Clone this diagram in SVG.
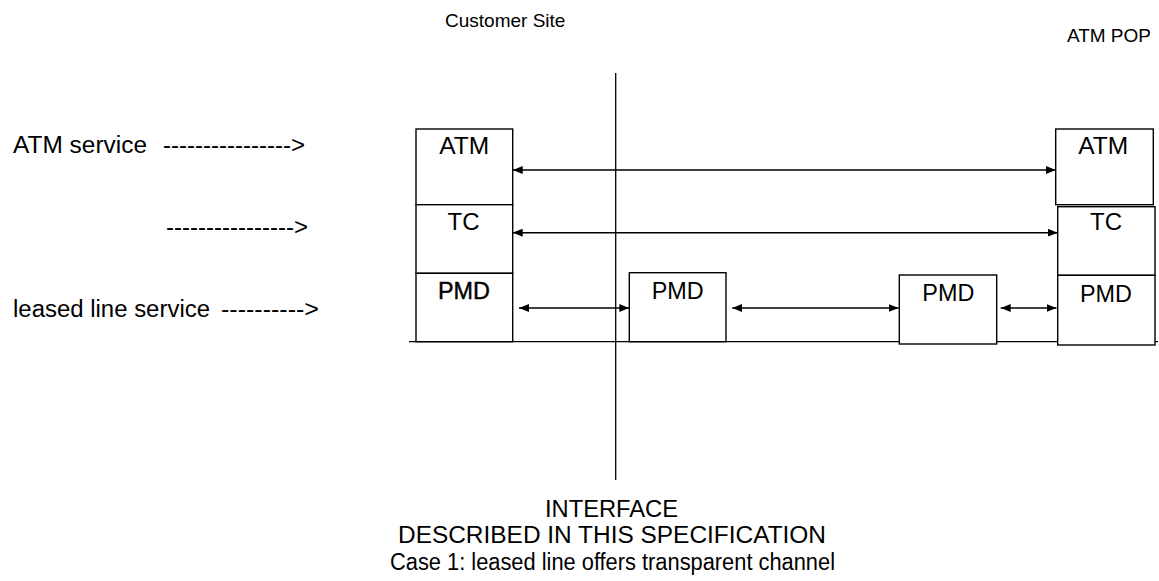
<svg xmlns="http://www.w3.org/2000/svg" width="1159" height="581" viewBox="0 0 1159 581">
  <style>
    text { font-family: "Liberation Sans", Arial, sans-serif; fill: #000; }
    .lbl { font-size: 23px; }
    .hdr { font-size: 19px; }
    .box { fill: #fff; stroke: #000; stroke-width: 1.4; }
    .line { stroke: #000; stroke-width: 1.3; fill: none; }
    .arrow { stroke: #000; stroke-width: 1.4; fill: none; marker-start: url(#head); marker-end: url(#head); }
  </style>
  <defs>
    <marker id="head" viewBox="0 0 10 8" refX="10" refY="4" markerWidth="10" markerHeight="8" markerUnits="userSpaceOnUse" orient="auto-start-reverse">
      <path d="M0,0 L10,4 L0,8 Z" fill="#000"/>
    </marker>
  </defs>
  <rect width="1159" height="581" fill="#fff"/>

  <!-- headings -->
  <text class="hdr" x="445" y="27">Customer Site</text>
  <text class="hdr" x="1151" y="42" text-anchor="end">ATM POP</text>

  <!-- service labels on the left -->
  <text class="lbl" x="13" y="153" textLength="134" lengthAdjust="spacingAndGlyphs">ATM service</text>
  <text class="lbl" x="163" y="153" textLength="142" lengthAdjust="spacingAndGlyphs">----------------&gt;</text>
  <text class="lbl" x="166" y="235" textLength="142" lengthAdjust="spacingAndGlyphs">----------------&gt;</text>
  <text class="lbl" x="13" y="317" textLength="197" lengthAdjust="spacingAndGlyphs">leased line service</text>
  <text class="lbl" x="221" y="317" textLength="98" lengthAdjust="spacingAndGlyphs">----------&gt;</text>

  <!-- interface boundary and ground line -->
  <line class="line" x1="615.7" y1="73" x2="615.7" y2="480"/>
  <line class="line" x1="409" y1="341.7" x2="1158" y2="341.7"/>

  <!-- customer-site protocol stack -->
  <g id="cs-atm">
    <rect class="box" x="416" y="129" width="96.7" height="75.7"/>
    <text class="lbl" x="439.3" y="154.3" textLength="50" lengthAdjust="spacingAndGlyphs">ATM</text>
  </g>
  <g id="cs-tc">
    <rect class="box" x="416" y="204.7" width="96.7" height="68.6"/>
    <text class="lbl" x="447.5" y="230" textLength="32" lengthAdjust="spacingAndGlyphs">TC</text>
  </g>
  <g id="cs-pmd">
    <rect class="box" x="416" y="273.3" width="96.7" height="68.4"/>
    <text class="lbl" x="438" y="299" textLength="52" lengthAdjust="spacingAndGlyphs" stroke="#000" stroke-width="0.4">PMD</text>
  </g>

  <!-- leased-line repeaters -->
  <g id="ll-pmd-1">
    <rect class="box" x="629.3" y="272.7" width="96.7" height="69"/>
    <text class="lbl" x="651.7" y="299" textLength="52" lengthAdjust="spacingAndGlyphs">PMD</text>
  </g>
  <g id="ll-pmd-2">
    <rect class="box" x="899.3" y="275" width="97.4" height="69"/>
    <text class="lbl" x="922.3" y="300.7" textLength="52" lengthAdjust="spacingAndGlyphs">PMD</text>
  </g>

  <!-- ATM POP protocol stack -->
  <g id="pop-atm">
    <rect class="box" x="1055.7" y="129" width="97.6" height="75.7"/>
    <text class="lbl" x="1078.3" y="154.3" textLength="50" lengthAdjust="spacingAndGlyphs">ATM</text>
  </g>
  <g id="pop-tc">
    <rect class="box" x="1057.7" y="206.7" width="97.3" height="68.6"/>
    <text class="lbl" x="1090" y="230" textLength="32" lengthAdjust="spacingAndGlyphs">TC</text>
  </g>
  <g id="pop-pmd">
    <rect class="box" x="1057.7" y="275.3" width="97.3" height="69.7"/>
    <text class="lbl" x="1080" y="301.7" textLength="52" lengthAdjust="spacingAndGlyphs">PMD</text>
  </g>

  <!-- peer-to-peer connectors -->
  <g id="connectors">
    <line class="arrow" x1="512.7" y1="170" x2="1055.7" y2="170"/>
    <line class="arrow" x1="512.7" y1="232.7" x2="1057.7" y2="232.7"/>
    <line class="arrow" x1="519" y1="308" x2="629.3" y2="308"/>
    <line class="arrow" x1="732.3" y1="308" x2="898.6" y2="308"/>
    <line class="arrow" x1="1000.7" y1="308" x2="1056.5" y2="308"/>
  </g>

  <!-- caption -->
  <text class="lbl" x="545" y="517.3" textLength="133" lengthAdjust="spacingAndGlyphs">INTERFACE</text>
  <text class="lbl" x="398" y="543.3" textLength="428" lengthAdjust="spacingAndGlyphs">DESCRIBED IN THIS SPECIFICATION</text>
  <text class="lbl" x="390" y="570" textLength="445" lengthAdjust="spacingAndGlyphs">Case 1: leased line offers transparent channel</text>
</svg>
